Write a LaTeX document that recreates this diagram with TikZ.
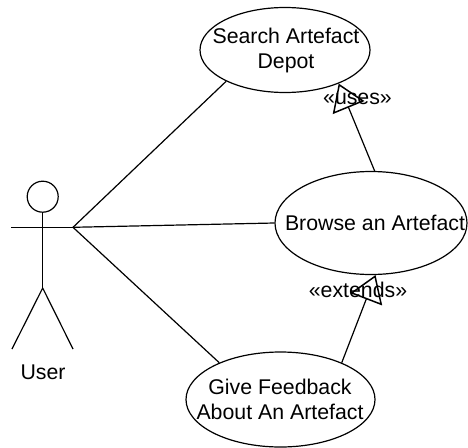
\documentclass[tikz,border=0pt]{standalone}
\usepackage{fontspec}
\setmainfont{Liberation Sans}
\usetikzlibrary{shapes.geometric,arrows.meta}
\tikzset{
  usecase/.style={draw,ellipse,inner sep=0pt,line width=1.2pt},
  casetext/.style={inner sep=0pt,align=center,font=\fontsize{21.3}{25}\selectfont},
  lbl/.style={inner sep=0pt,font=\fontsize{21.3}{25}\selectfont},
  ln/.style={line width=1.2pt},
  hollow/.style={ln,-{Triangle[open,length=26pt,width=34pt,line width=1.5pt]},shorten >=0pt}
}
\begin{document}
\begin{tikzpicture}[x=1pt,y=-1pt]
\useasboundingbox (0,0) rectangle (468,447);
\node[usecase,minimum width=170pt,minimum height=85pt] (search) at (285,50) {};
\node[usecase,minimum width=192pt,minimum height=103pt] (browse) at (371,223) {};
\node[usecase,minimum width=189pt,minimum height=95pt] (feedback) at (280.5,399.5) {};
\node[casetext] (searchtext) at (286,50.5) {Search Artefact\\Depot};
\node[casetext] (browsetext) at (375,223) {Browse an Artefact};
\node[casetext] (feedbacktext) at (280,399) {Give Feedback\\About An Artefact};
\node[ln,draw,circle,minimum size=31pt,inner sep=0pt] (head) at (42.7,196.7) {};
\coordinate (handL) at (11,227.3);
\coordinate (handR) at (73,227.3);
\coordinate (hip) at (42.7,288);
\coordinate (footL) at (12,349);
\coordinate (footR) at (73,349);
\draw[ln] (head) -- (hip);
\draw[ln] (handL) -- (handR);
\draw[ln,line join=round] (footL) -- (hip) -- (footR);
\node[lbl] (user) at (43,372) {User};
\draw[ln] (handR) -- (search.208);
\draw[ln] (handR) -- (browse.west);
\draw[ln] (handR) -- (feedback.149);
\draw[hollow] (browse.86) -- (search.-32.4);
\draw[hollow] (feedback.31.8) -- (browse.-85.5);
\node[lbl] (uses) at (357.5,99) {«uses»};
\node[lbl] (extends) at (358,290) {«extends»};
\end{tikzpicture}
\end{document}
